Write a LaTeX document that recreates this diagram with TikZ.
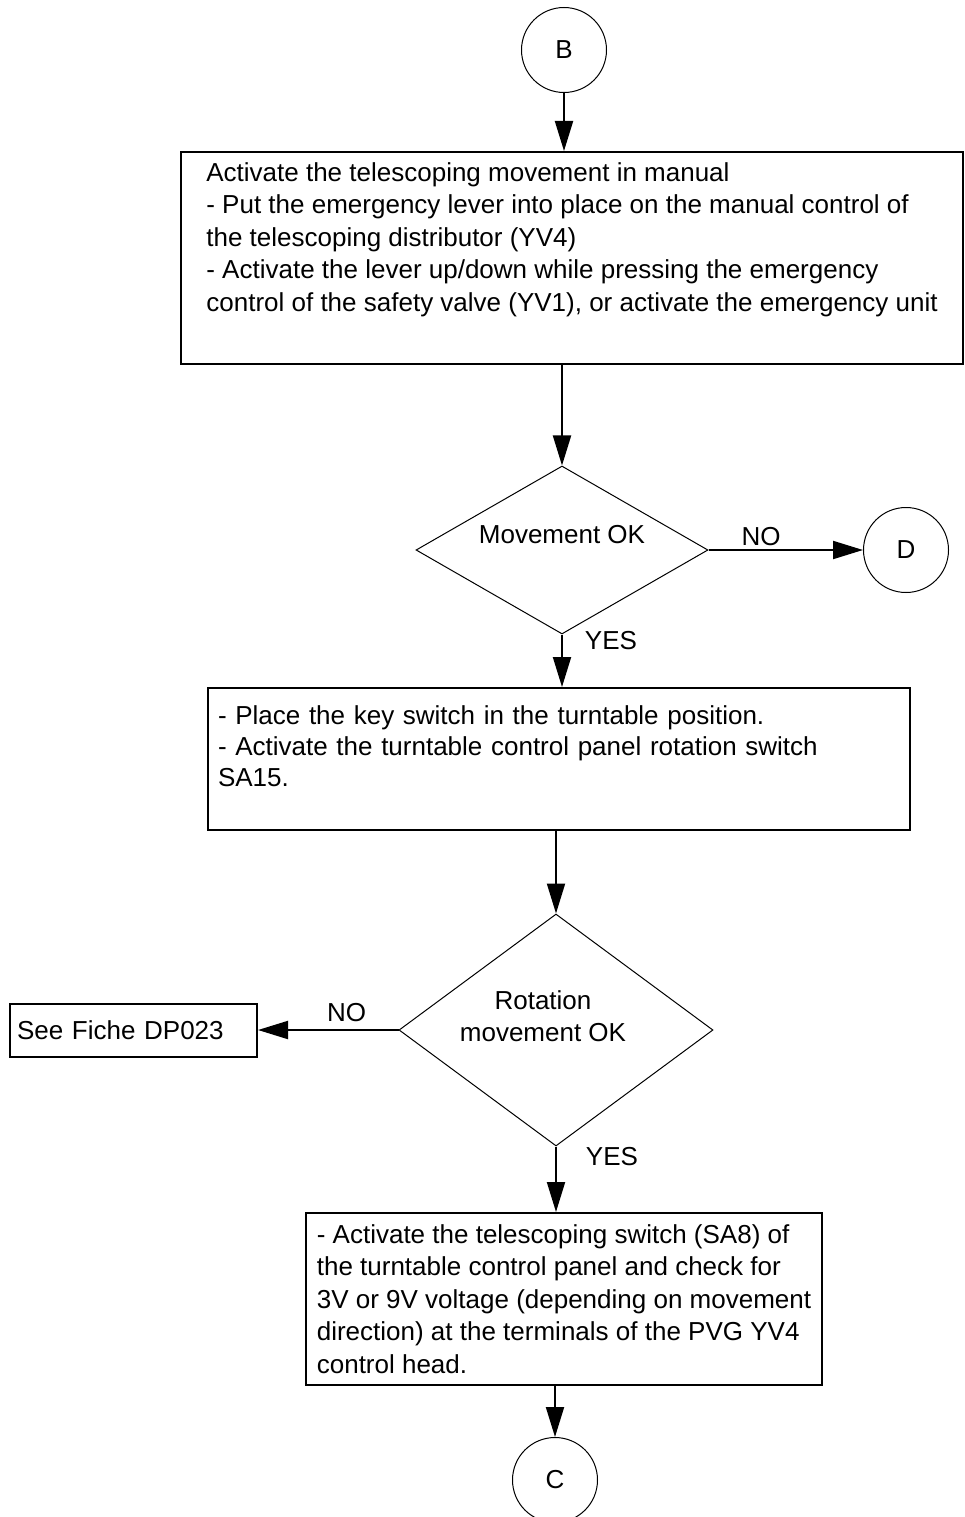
\documentclass[tikz,border=0pt]{standalone}
\usepackage{fontspec}
\setmainfont{Liberation Sans}
\usetikzlibrary{arrows.meta,positioning,shapes.geometric}

\begin{document}
\begin{tikzpicture}[x=1pt,y=-1pt,font=\fontsize{26}{32.5}\selectfont,
  conn/.style={draw,circle,line width=1pt,minimum size=85pt,inner sep=0pt},
  stepbox/.style={draw,line width=2pt,align=left,inner ysep=0pt},
  test/.style={draw,diamond,line width=1pt,inner sep=0pt},
  flow/.style={-{Triangle[length=30pt,width=18pt]},line width=2pt},
  lbl/.style={inner sep=0pt}]
  \useasboundingbox (0,0) rectangle (965,1517);
  \node[conn] (B) at (564,50) {B};
  \node[stepbox,minimum width=782pt,minimum height=212pt] (act) at (572,258)
    {Activate the telescoping movement in manual\\- Put the emergency lever into place on the manual control of\\the telescoping distributor (YV4)\\- Activate the lever up/down while pressing the emergency\\control of the safety valve (YV1), or activate the emergency unit\\[10pt] \mbox{}};
  \node[test,minimum width=292pt,minimum height=168pt,label={[lbl,yshift=15pt]center:Movement OK}] (mv) at (562,550) {};
  \node[conn] (D) at (906,550) {D};
  \node[stepbox,minimum width=702pt,minimum height=142pt,text width=682pt,inner xsep=10pt,font=\fontsize{26}{31}\selectfont] (key) at (559,759)
    {- Place the key switch in the turntable position.\\- Activate the turntable control panel rotation switch\\SA15.\\[-6pt] \mbox{}};
  \node[test,minimum width=314pt,minimum height=232pt,label={[lbl,align=center,xshift=-13pt,yshift=14pt]center:{Rotation\\movement OK}}] (rot) at (556,1030) {};
  \node[stepbox,minimum width=247pt,minimum height=53pt,text width=233pt,inner xsep=7pt] (fiche) at (133.5,1030) {See Fiche DP023};
  \node[stepbox,minimum width=516pt,minimum height=172pt] (tel) at (564,1299)
    {- Activate the telescoping switch (SA8) of\\the turntable control panel and check for\\3V or 9V voltage (depending on movement\\direction) at the terminals of the PVG YV4\\control head.};
  \node[conn] (C) at (555,1480) {C};
  \draw[flow] (B) -- (B |- act.north);
  \draw[flow] (mv.north |- act.south) -- (mv);
  \draw[flow] (mv) -- (D) node[lbl,pos=0.34,above=3pt] (no1) {NO};
  \draw[flow] (mv) -- (mv |- key.north);
  \node[lbl] (yes1) at (611,641) {YES};
  \draw[flow] (rot.north |- key.south) -- (rot);
  \draw[flow] (rot) -- (fiche) node[lbl,pos=0.37,above=7pt] (no2) {NO};
  \draw[flow] (rot) -- (rot |- tel.north);
  \node[lbl] (yes2) at (612,1157) {YES};
  \draw[flow] (C |- tel.south) -- (C);
\end{tikzpicture}
\end{document}
